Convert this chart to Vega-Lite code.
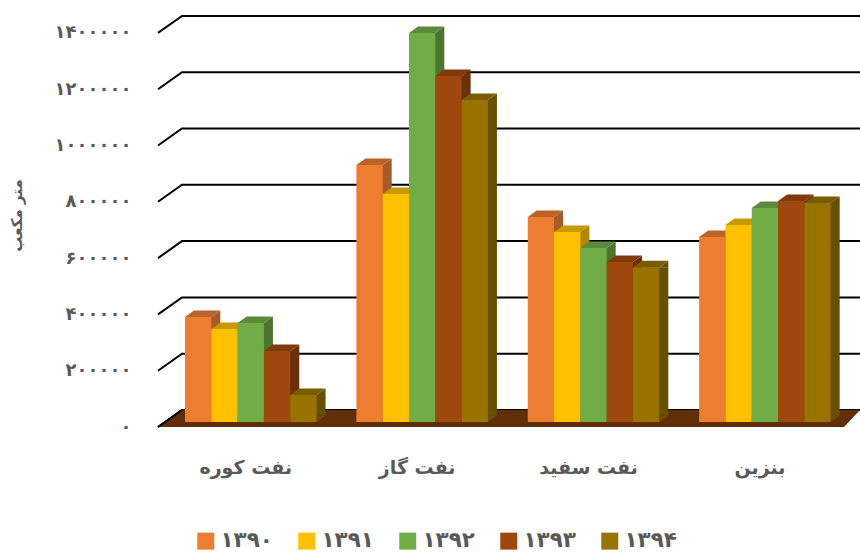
{"$schema":"https://vega.github.io/schema/vega-lite/v6.json","width":702,"height":411,"autosize":"none","padding":{"left":158,"top":16,"right":0,"bottom":129},"background":"white","config":{"font":"DejaVu Sans","view":{"stroke":null},"axis":{"labelFont":"DejaVu Sans","titleFont":"DejaVu Sans"}},"datasets":{"bars":[{"c":"نفت کوره","year":"۱۳۹۰","v":373000},{"c":"نفت کوره","year":"۱۳۹۱","v":330000},{"c":"نفت کوره","year":"۱۳۹۲","v":352000},{"c":"نفت کوره","year":"۱۳۹۳","v":252000},{"c":"نفت کوره","year":"۱۳۹۴","v":96000},{"c":"نفت گاز","year":"۱۳۹۰","v":913000},{"c":"نفت گاز","year":"۱۳۹۱","v":810000},{"c":"نفت گاز","year":"۱۳۹۲","v":1382000},{"c":"نفت گاز","year":"۱۳۹۳","v":1229000},{"c":"نفت گاز","year":"۱۳۹۴","v":1144000},{"c":"نفت سفید","year":"۱۳۹۰","v":728000},{"c":"نفت سفید","year":"۱۳۹۱","v":675000},{"c":"نفت سفید","year":"۱۳۹۲","v":618000},{"c":"نفت سفید","year":"۱۳۹۳","v":568000},{"c":"نفت سفید","year":"۱۳۹۴","v":550000},{"c":"بنزین","year":"۱۳۹۰","v":657000},{"c":"بنزین","year":"۱۳۹۱","v":700000},{"c":"بنزین","year":"۱۳۹۲","v":760000},{"c":"بنزین","year":"۱۳۹۳","v":785000},{"c":"بنزین","year":"۱۳۹۴","v":778000}],"floor":[{"d":0,"lo":0,"hi":0},{"d":24,"lo":0,"hi":60400},{"d":686,"lo":0,"hi":60400},{"d":702,"lo":60400,"hi":60400}],"grid":[{"t":0,"d":0,"g":0},{"t":0,"d":24,"g":60400},{"t":0,"d":702,"g":60400},{"t":200000,"d":0,"g":200000},{"t":200000,"d":24,"g":260400},{"t":200000,"d":702,"g":260400},{"t":400000,"d":0,"g":400000},{"t":400000,"d":24,"g":460400},{"t":400000,"d":702,"g":460400},{"t":600000,"d":0,"g":600000},{"t":600000,"d":24,"g":660400},{"t":600000,"d":702,"g":660400},{"t":800000,"d":0,"g":800000},{"t":800000,"d":24,"g":860400},{"t":800000,"d":702,"g":860400},{"t":1000000,"d":0,"g":1000000},{"t":1000000,"d":24,"g":1060400},{"t":1000000,"d":702,"g":1060400},{"t":1200000,"d":0,"g":1200000},{"t":1200000,"d":24,"g":1260400},{"t":1200000,"d":702,"g":1260400},{"t":1400000,"d":0,"g":1400000},{"t":1400000,"d":24,"g":1460400},{"t":1400000,"d":702,"g":1460400}]},"resolve":{"scale":{"x":"independent","color":"independent"},"axis":{"x":"independent"}},"layer":[{"data":{"name":"grid"},"mark":{"type":"line","color":"#000000","strokeWidth":2,"interpolate":"linear"},"encoding":{"x":{"field":"d","type":"quantitative","scale":{"domain":[0,702],"nice":false},"axis":null},"y":{"field":"g","type":"quantitative","scale":{"domain":[0,1460000],"nice":false},"axis":{"values":[0,200000,400000,600000,800000,1000000,1200000,1400000],"grid":false,"ticks":false,"domain":false,"labelFontSize":18,"labelFontWeight":"bold","labelColor":"#595959","labelPadding":27,"labelExpr":"replace(replace(replace(replace(replace(replace(format(datum.value,'d'),/0/g,'۰'),/1/g,'۱'),/2/g,'۲'),/4/g,'۴'),/6/g,'۶'),/8/g,'۸')","title":"متر مکعب","titleFontSize":15,"titleFontWeight":"bold","titleColor":"#595959","titlePadding":30,"titleY":199}},"detail":{"field":"t"}}},{"data":{"name":"floor"},"mark":{"type":"area","color":"#622E08"},"encoding":{"x":{"field":"d","type":"quantitative","scale":{"domain":[0,702],"nice":false},"axis":null},"y":{"field":"hi","type":"quantitative"},"y2":{"field":"lo"}}},{"data":{"name":"grid"},"transform":[{"filter":"datum.t==0 && datum.d<=24"}],"mark":{"type":"line","color":"#000000","strokeWidth":2},"encoding":{"x":{"field":"d","type":"quantitative","scale":{"domain":[0,702],"nice":false},"axis":null},"y":{"field":"g","type":"quantitative"}}},{"data":{"name":"bars"},"encoding":{"x":{"field":"c","type":"nominal","sort":null,"scale":{"range":[7.1,692.6],"paddingInner":0,"paddingOuter":0},"axis":{"title":null,"ticks":false,"domain":false,"labelAngle":0,"labelFontSize":19,"labelFontWeight":"bold","labelColor":"#595959","labelPadding":31,"labelOffset":-5}}},"resolve":{"scale":{"color":"independent","xOffset":"independent"}},"layer":[{"mark":{"type":"bar","yOffset":-5,"y2Offset":-11.5},"encoding":{"xOffset":{"field":"year","type":"nominal","sort":null,"scale":{"range":[9,180.375],"paddingInner":0,"paddingOuter":0.757}},"y":{"field":"v","type":"quantitative"},"y2":{"datum":0},"color":{"field":"year","type":"nominal","sort":null,"legend":null,"scale":{"range":["#A85A28","#B08500","#4C7530","#6A300A","#665000"]}}}},{"encoding":{"xOffset":{"field":"year","type":"nominal","sort":null,"scale":{"paddingInner":0,"paddingOuter":0.757}}},"resolve":{"scale":{"color":"independent"}},"layer":[{"mark":{"type":"point","filled":true,"strokeWidth":0,"opacity":1,"size":4,"shape":"M13.15,-5 L22.15,-11.5 L22.15,-5 Z"},"encoding":{"y":{"field":"v","type":"quantitative"},"color":{"field":"year","type":"nominal","sort":null,"legend":null,"scale":{"range":["#A85A28","#B08500","#4C7530","#6A300A","#665000"]}}}},{"mark":{"type":"point","filled":true,"strokeWidth":0,"opacity":1,"size":4,"shape":"M13.15,-5 L22.15,-11.5 L13.15,-11.5 Z"},"encoding":{"y":{"datum":0,"type":"quantitative"},"color":{"field":"year","type":"nominal","sort":null,"legend":null,"scale":{"range":["#A85A28","#B08500","#4C7530","#6A300A","#665000"]}}}},{"mark":{"type":"point","filled":true,"strokeWidth":0,"opacity":1,"size":4,"shape":"M-13.15,-5 L13.15,-5 L22.15,-11.5 L-4.15,-11.5 Z"},"encoding":{"y":{"field":"v","type":"quantitative"},"color":{"field":"year","type":"nominal","sort":null,"legend":null,"scale":{"range":["#BC6329","#C69A00","#5A8A3A","#7E3A0C","#7A5C00"]}}}},{"mark":{"type":"bar","yOffset":-5,"y2Offset":-5},"encoding":{"y":{"field":"v","type":"quantitative"},"y2":{"datum":0},"color":{"field":"year","type":"nominal","sort":null,"scale":{"range":["#ED7D31","#FFC000","#70AD47","#9E480E","#997300"]},"legend":{"title":null,"orient":"none","legendX":37,"legendY":514,"direction":"horizontal","columns":5,"symbolType":"square","symbolSize":289,"symbolStrokeWidth":0,"labelFontSize":21.5,"labelFontWeight":"bold","labelColor":"#595959","labelFont":"DejaVu Sans","columnPadding":23,"symbolOpacity":1}}}}]}]}]}
